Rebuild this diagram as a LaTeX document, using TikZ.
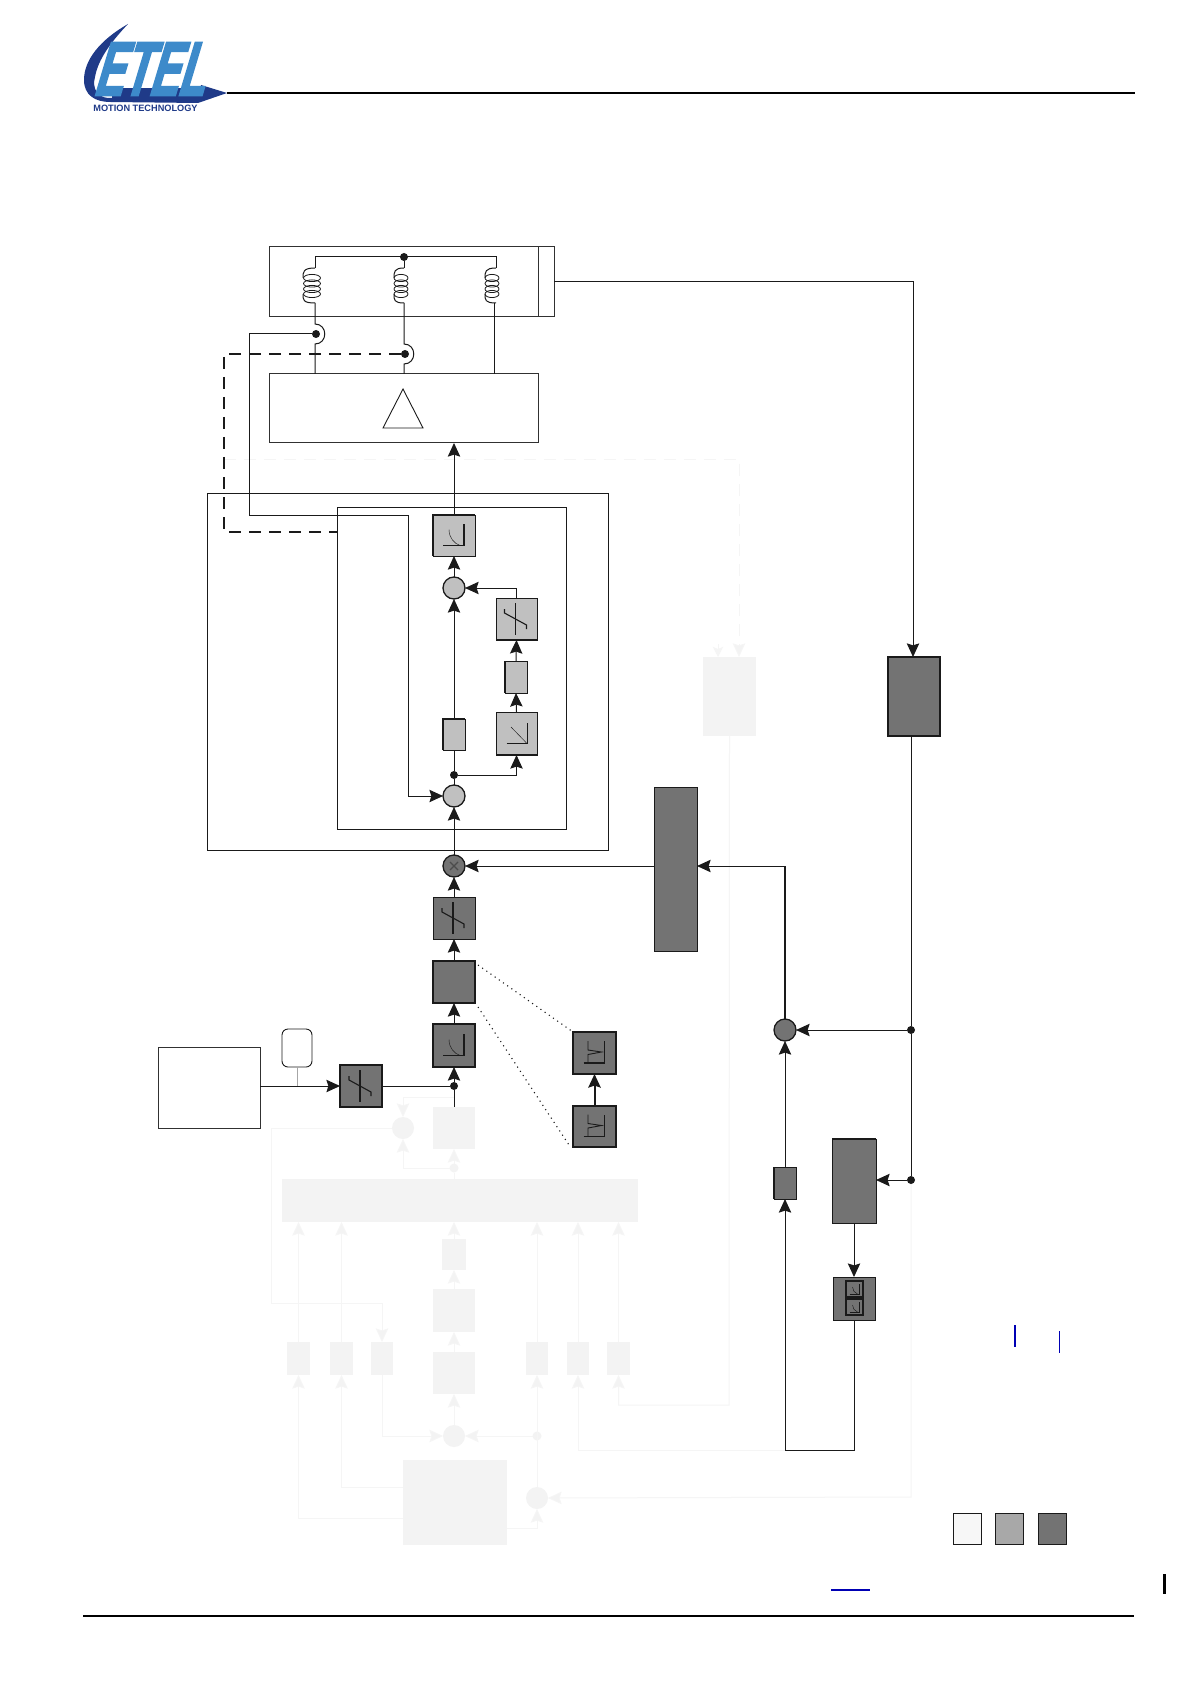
\documentclass[tikz,border=0pt]{standalone}
\usepackage{fontspec}
\usetikzlibrary{arrows.meta,calc}
\newfontfamily\etelfont[FakeSlant=0.3,FakeStretch=0.56,FakeBold=2.5]{Liberation Sans}
\newfontfamily\motionfont{Liberation Sans}
\definecolor{ink}{HTML}{1A1A1A}
\definecolor{dk}{HTML}{737373}
\definecolor{lt}{HTML}{C0C0C0}
\definecolor{fnt}{HTML}{F3F3F3}
\definecolor{fntl}{HTML}{F5F5F5}
\definecolor{logod}{HTML}{1F3A88}
\definecolor{logol}{HTML}{3D8ACA}
\definecolor{lnk}{HTML}{0000B4}
\tikzset{
  bxbase/.style={rectangle,inner sep=0pt,outer sep=0pt},
  whitebox/.style={bxbase,draw=ink!90,line width=.5pt,fill=white},
  ltbox/.style={bxbase,draw=ink,line width=.5pt,fill=lt},
  dkbox/.style={bxbase,draw=ink,line width=.5pt,fill=dk},
  fbox/.style={bxbase,fill=fnt},
  circbase/.style={circle,inner sep=0pt,outer sep=0pt,minimum size=11pt},
  ltcirc/.style={circbase,draw=ink,line width=.65pt,fill=lt},
  dkcirc/.style={circbase,draw=ink,line width=.65pt,fill=dk},
  fcirc/.style={circbase,fill=fnt},
  dotn/.style={circle,inner sep=0pt,outer sep=0pt,minimum size=4pt,fill=ink},
  fdot/.style={circle,inner sep=0pt,outer sep=0pt,minimum size=4.5pt,fill=fnt},
  wire/.style={draw=ink,line width=.5pt},
  ar/.style={wire,-{Stealth[length=6.8pt,width=6.2pt,inset=1pt]}},
  far/.style={draw=fntl,line width=.5pt,-{Stealth[length=6.8pt,width=6.2pt,inset=1pt,fill=fnt]}},
  fwire/.style={draw=fntl,line width=.5pt},
  glyph/.style={draw=ink,line width=.55pt},
  thin glyph/.style={draw=ink,line width=.22pt},
  edge/.style={draw=ink,line width=1.05pt},
}
\newcommand\bxx[6]{%
  \pgfmathsetmacro\rsW{(#5-#3)*.5}\pgfmathsetmacro\rsH{(#6-#4)*.5}%
  \pgfmathsetmacro\rsX{(#3+#5)/2}\pgfmathsetmacro\rsY{(#4+#6)/2}%
  \node[#1,minimum width=\rsW pt,minimum height=\rsH pt] (#2) at (\rsX,\rsY) {};}
\newcommand\satg[1]{\begin{scope}[shift={(#1.center)}]
  \draw[glyph] (-1,-16) -- (-1,16);
  \draw[glyph] (-12,-10) -- (-12,-6) -- (10,6) -- (10,10);
\end{scope}}
\newcommand\curveg[1]{\begin{scope}[shift={(#1.center)}]
  \draw[glyph] (-11,10) -- (10,10) -- (10,-12);
  \draw[thin glyph] (-5,-6) .. controls (-5,2) and (0,8) .. (6,10);
\end{scope}}
\newcommand\rampg[1]{\begin{scope}[shift={(#1.center)}]
  \draw[glyph] (-10,10) -- (11,10) -- (11,-11);
  \draw[thin glyph] (-5.5,-6.5) -- (10,9.5);
\end{scope}}
\newcommand\notchg[1]{\begin{scope}[shift={(#1.center)}]
  \draw[glyph] (-11,10) -- (10,10) -- (10,-12);
  \draw[glyph,line width=.45pt] (-6.5,10) -- (-6.5,1.5) -- (7,-1) -- (-6.5,-3) -- (-6.5,-12);
\end{scope}}
\newcommand\coil[2]{% centre x, half width
  \foreach \rsy in {278,283.5,289,294}{\draw[draw=ink,line width=.4pt] (#1,\rsy) ellipse [x radius=#2,y radius=3.6];}}
\begin{document}
\begin{tikzpicture}[x=.5pt,y=-.5pt]
\useasboundingbox[fill=white] (0,0) rectangle (1190,1684);

% ---- logo
\fill[logod] (128,24) .. controls (100,40) and (84,60) .. (84,80) .. controls (84,95) and (95,102) .. (110,102)
  -- (198,103) -- (227,93) -- (201,85) -- (199,98) -- (108,98) .. controls (97,97) and (92,88) .. (95,77)
  .. controls (98,60) and (110,43) .. (128,24) -- cycle;
\fill[logod] (112,88) rectangle (200,99);
\node[inner sep=0pt,text=logol] (logotext) at (148,69) {\fontsize{38.5pt}{38.5pt}\etelfont\bfseries ETEL};
\node[inner sep=0pt,text=logod] (motion) at (145.5,108) {\fontsize{4.6pt}{5pt}\motionfont\bfseries MOTION TECHNOLOGY};
\coordinate (hdrL) at (227,93); \coordinate (hdrR) at (1135,93);
\draw[black,line width=1pt] (hdrL) -- (hdrR);
\coordinate (ftrL) at (83,1616); \coordinate (ftrR) at (1134,1616);
\draw[black,line width=1pt] (ftrL) -- (ftrR);

% ---- faint layer
\bxx{fbox}{fR}{703}{657}{756}{736}
\bxx{fbox}{fLight}{433}{1107}{475}{1149}
\bxx{fbox}{fBar}{282}{1179}{638}{1222}
\bxx{fbox}{fC1}{442}{1239}{466}{1270}
\bxx{fbox}{fC2}{433}{1289}{475}{1332}
\bxx{fbox}{fC3}{433}{1352}{475}{1394}
\bxx{fbox}{fS1}{287}{1342}{310}{1375}
\bxx{fbox}{fS2}{330}{1342}{353}{1375}
\bxx{fbox}{fS3}{371}{1342}{393}{1375}
\bxx{fbox}{fS4}{526}{1342}{548}{1375}
\bxx{fbox}{fS5}{567}{1342}{589}{1375}
\bxx{fbox}{fS6}{607}{1342}{630}{1375}
\bxx{fbox}{fBig}{403}{1460}{507}{1545}
\node[fcirc] (fC) at (403,1128) {};
\node[fcirc] (fSum) at (454,1436) {};
\node[fcirc] (fSum2) at (537,1498) {};
\node[fdot] (fD1) at (454,1168) {};
\node[fdot] (fD2) at (537,1436) {};
\coordinate (fa) at (224,459); \coordinate (fb) at (739,459);
\draw[far,dashed,dash pattern=on 6pt off 4pt] (fa) -- (fb) -- (739,657);
\coordinate (fc) at (718,644);
\draw[draw=white!96!black,line width=.5pt,-{Stealth[length=5pt,width=5pt,inset=1pt]}] (fc) -- (fc |- fR.north);
\draw[fwire] (fBar.north -| fD1) -- (fD1);
\draw[far] (fD1) -- (fLight.south);
\draw[far] (fD1) -| (fC.south);
\coordinate (fup) at (454,1097);
\draw[far] (fup) -| (fC.north);
\draw[fwire] (fC.west) -- (271,1128) -- (271,1303) -- (382,1303);
\draw[far] (382,1303) -- (fS3.north);
\draw[far] (fS1.north) -- (fS1.north |- fBar.south);
\draw[far] (fS2.north) -- (fS2.north |- fBar.south);
\draw[far] (fS4.north) -- (fS4.north |- fBar.south);
\draw[far] (fS5.north) -- (fS5.north |- fBar.south);
\draw[far] (fS6.north) -- (fS6.north |- fBar.south);
\draw[far] (fC1.north) -- (fC1.north |- fBar.south);
\draw[far] (fC2.north) -- (fC2.north |- fC1.south);
\draw[far] (fC3.north) -- (fC2.south);
\draw[far] (fSum) -- (fC3.south);
\draw[far] (fS3.south) |- (fSum);
\draw[far] (fD2) -- (fSum);
\draw[far] (fSum2) -- (fS4.south);
\draw[far] (fBig.east |- 0,1528) -| (fSum2.south);
\draw[far] (fBig.west |- 0,1487) -| (fS2.south);
\draw[far] (fBig.west |- 0,1518) -| (fS1.south);
\coordinate (fj) at (785,1450);
\draw[far] (fj) -| (fS5.south);
\draw[far] (fR.south) -- (729,1405) -| (fS6.south);
\coordinate (fr) at (911,1497); \coordinate (fv) at (911,1180);
\draw[far] (fv) -- (fr) -- (fSum2);

% ---- frames
\bxx{draw=ink,line width=.5pt,bxbase}{outerA}{207}{493}{608}{850}
\bxx{draw=ink,line width=.5pt,bxbase}{innerA}{337}{507}{566}{829}

% ---- motor and drive
\bxx{whitebox}{motor}{269}{247}{538}{317}
\bxx{whitebox}{enc}{538}{247}{554}{317}
\bxx{whitebox}{drive}{269}{374}{538}{443}
\coordinate (triA) at (383,428); \coordinate (triB) at (423,428); \coordinate (triC) at (403,389);
\draw[ink,line width=.45pt] (triA) -- (triB) -- (triC) -- cycle;
\node[dotn] (busD) at (404,257) {};
\coordinate (busL) at (315,257); \coordinate (busR) at (496,257);
\draw[wire] (315,268) -- (busL) -- (busR) -- (496,268);
\draw[wire] (busD) -- (404,268);
\coil{312}{8.5}\coil{401}{7}\coil{492}{7}
\foreach \cxx/\st in {315/303,404/394,496/485}{
  \draw[wire] (\cxx,268) .. controls (\st,268) and (\st,272) .. (\st,278);
  \draw[wire] (\cxx,303) .. controls (\st,303) and (\st,300) .. (\st,294);
}
\node[dotn] (senseU) at (316,334) {};
\node[dotn] (senseV) at (405,354) {};
\coordinate (u1) at (315,303); \coordinate (u2) at (315,324); \coordinate (u3) at (315,344);
\draw[wire] (u1) -- (u2) .. controls (328,324) and (328,344) .. (u3) -- (u3 |- drive.north);
\coordinate (v1) at (404,303); \coordinate (v2) at (404,344); \coordinate (v3) at (404,364);
\draw[wire] (v1) -- (v2) .. controls (417,344) and (417,364) .. (v3) -- (v3 |- drive.north);
\coordinate (w1) at (494,303);
\draw[wire] (w1) -- (w1 |- drive.north);

% ---- current loop
\bxx{ltbox}{A}{433}{515}{475}{556}
\node[ltcirc] (c1) at (454,588) {};
\bxx{ltbox}{B}{496}{598}{537}{640}
\bxx{ltbox}{C}{505}{661}{527}{693}
\bxx{ltbox}{D}{496}{712}{537}{755}
\bxx{ltbox}{E}{443}{719}{465}{750}
\node[dotn] (dotE) at (454,775) {};
\node[ltcirc] (c2) at (454,796) {};
\curveg{A}\satg{B}\rampg{D}
\draw[edge] (A.south west) -- (A.north west) -- (A.north east);
\draw[edge] (B.south west) -- (B.south east);
\draw[edge] (C.south west) -- (C.north west);
\draw[edge] (D.south west) -- (D.south east);
\draw[edge] (E.south west) -- (E.north west) -- (E.north east);
\draw[ar] (A.north) -- (drive.south -| A.north);
\draw[ar] (c1) -- (A.south);
\draw[ar] (E.north) -- (c1.south);
\draw[wire] (c2.north) -- (dotE) -- (E.south);
\draw[ar] (dotE) -| (D.south);
\draw[ar] (D.north) -- (C.south);
\draw[ar] (C.north) -- (B.south);
\draw[ar] (B.north) |- (c1.east);
\coordinate (fbU) at (249,515); \coordinate (fbU2) at (408,515);
\draw[ar] (senseU) -| (fbU) -- (fbU2) |- (c2.west);
\coordinate (fbV1) at (224,532);
\draw[ink,line width=.85pt,dash pattern=on 6pt off 4pt] (senseV) -| (fbV1) -- (innerA.west |- fbV1);

% ---- position / velocity chain (dark)
\node[dkcirc] (mult) at (454,866) {};
\draw[black!70,line width=.6pt] ($(mult)+(-4,-4)$) -- ($(mult)+(4,4)$) ($(mult)+(-4,4)$) -- ($(mult)+(4,-4)$);
\bxx{dkbox}{F}{433}{897}{475}{939}
\bxx{dkbox,line width=1pt}{G}{433}{961}{475}{1003}
\bxx{dkbox,line width=.8pt}{H}{433}{1024}{475}{1067}
\bxx{dkbox,line width=.7pt}{I}{340}{1065}{382}{1107}
\bxx{dkbox,line width=.8pt}{J}{573}{1032}{616}{1074}
\bxx{dkbox,line width=.8pt}{K}{573}{1106}{616}{1147}
\satg{F}\curveg{H}\satg{I}\notchg{J}\notchg{K}
\node[dotn] (dotH) at (454,1086) {};
\bxx{whitebox}{src}{158}{1047}{260}{1128}
\node[rectangle,rounded corners=3pt,draw=ink,line width=.45pt,fill=white,inner sep=0pt,minimum width=15pt,minimum height=19pt] (tag) at (297,1048) {};
\coordinate (tagj) at (297,1086);
\draw[draw=black!35,line width=.5pt] (tag.south) -- (tagj);
\draw[ar] (src.east |- I) -- (I.west);
\draw[wire] (I.east) -- (dotH);
\draw[ar] (dotH) -- (H.south);
\draw[wire] (dotH) -- (fLight.north);
\draw[ar] (H.north) -- (G.south);
\draw[ar] (G.north) -- (F.south);
\draw[ar] (F.north) -- (mult.south);
\draw[ar] (mult.north) -- (c2.south);
\draw[ar,line width=1pt] (K.north) -- (J.south);
\coordinate (gu) at (478,965); \coordinate (gl) at (478,1007);
\coordinate (ju) at (573,1032); \coordinate (kl) at (569,1145);
\draw[ink,line width=.55pt,dotted] (gu) -- (ju);
\draw[ink,line width=.55pt,dotted] (gl) -- (kl);

% ---- right side
\bxx{dkbox}{M}{654}{787}{697}{951}
\bxx{dkbox,line width=.8pt}{L}{888}{657}{940}{736}
\node[dkcirc] (N) at (785,1030) {};
\bxx{dkbox}{O}{774}{1167}{796}{1199}
\draw[edge] (O.south west) -- (O.north west);
\bxx{dkbox}{P}{832}{1139}{876}{1223}
\draw[edge] (P.north west) -- (P.north east);
\bxx{dkbox}{Q}{833}{1277}{875}{1320}
\bxx{dkbox,line width=.7pt}{Qa}{846}{1281}{863}{1297}
\bxx{dkbox,line width=.7pt}{Qb}{846}{1299}{863}{1315}
\foreach \qq in {Qa,Qb}{\begin{scope}[shift={(\qq.center)}]
  \draw[draw=ink,line width=.5pt] (-5,5) -- (5,5) -- (5,-5);
  \draw[thin glyph] (-2,-2) .. controls (-2,1) and (0,4) .. (3,5);
\end{scope}}
\node[dotn] (j1) at (911,1030) {};
\node[dotn] (j2) at (911,1180) {};
\coordinate (encOut) at (554,282); \coordinate (encCorner) at (913,282);
\draw[ar] (encOut) -- (encCorner) -- (encCorner |- L.north);
\draw[wire] (L.south -| j1) -- (j1) -- (j2);
\draw[ar] (j1) -- (N.east);
\draw[ar] (j2) -- (P.east |- j2);
\draw[ar] (P.south -| Q.north) -- (Q.north);
\coordinate (qj) at (785,1450); \coordinate (qc) at (854,1450);
\draw[ar] (Q.south) -- (qc) -- (qj) -- (O.south);
\draw[ar] (O.north) -- (N.south);
\coordinate (Nc) at (785,866);
\draw[ink,line width=1.1pt] (N.north) -- (Nc);
\draw[ar] (Nc) -- (M.east |- Nc);
\draw[ar] (M.west |- mult) -- (mult.east);

% ---- legend and marks
\bxx{bxbase,draw=ink,line width=.5pt,fill=white!97!black}{leg1}{953}{1513}{981}{1544}
\bxx{bxbase,draw=ink,line width=.5pt,fill=black!34}{leg2}{995}{1513}{1023}{1544}
\bxx{dkbox}{leg3}{1038}{1513}{1066}{1544}
\coordinate (b1a) at (1015,1325); \coordinate (b1b) at (1015,1347);
\draw[lnk,line width=1pt] (b1a) -- (b1b);
\coordinate (b2a) at (1059,1331); \coordinate (b2b) at (1059,1353);
\draw[lnk,line width=.5pt] (b2a) -- (b2b);
\coordinate (b3a) at (831,1590); \coordinate (b3b) at (870,1590);
\draw[lnk,line width=1pt] (b3a) -- (b3b);
\coordinate (b4a) at (1164,1574); \coordinate (b4b) at (1164,1594);
\draw[black,line width=1.5pt] (b4a) -- (b4b);
\end{tikzpicture}
\end{document}
